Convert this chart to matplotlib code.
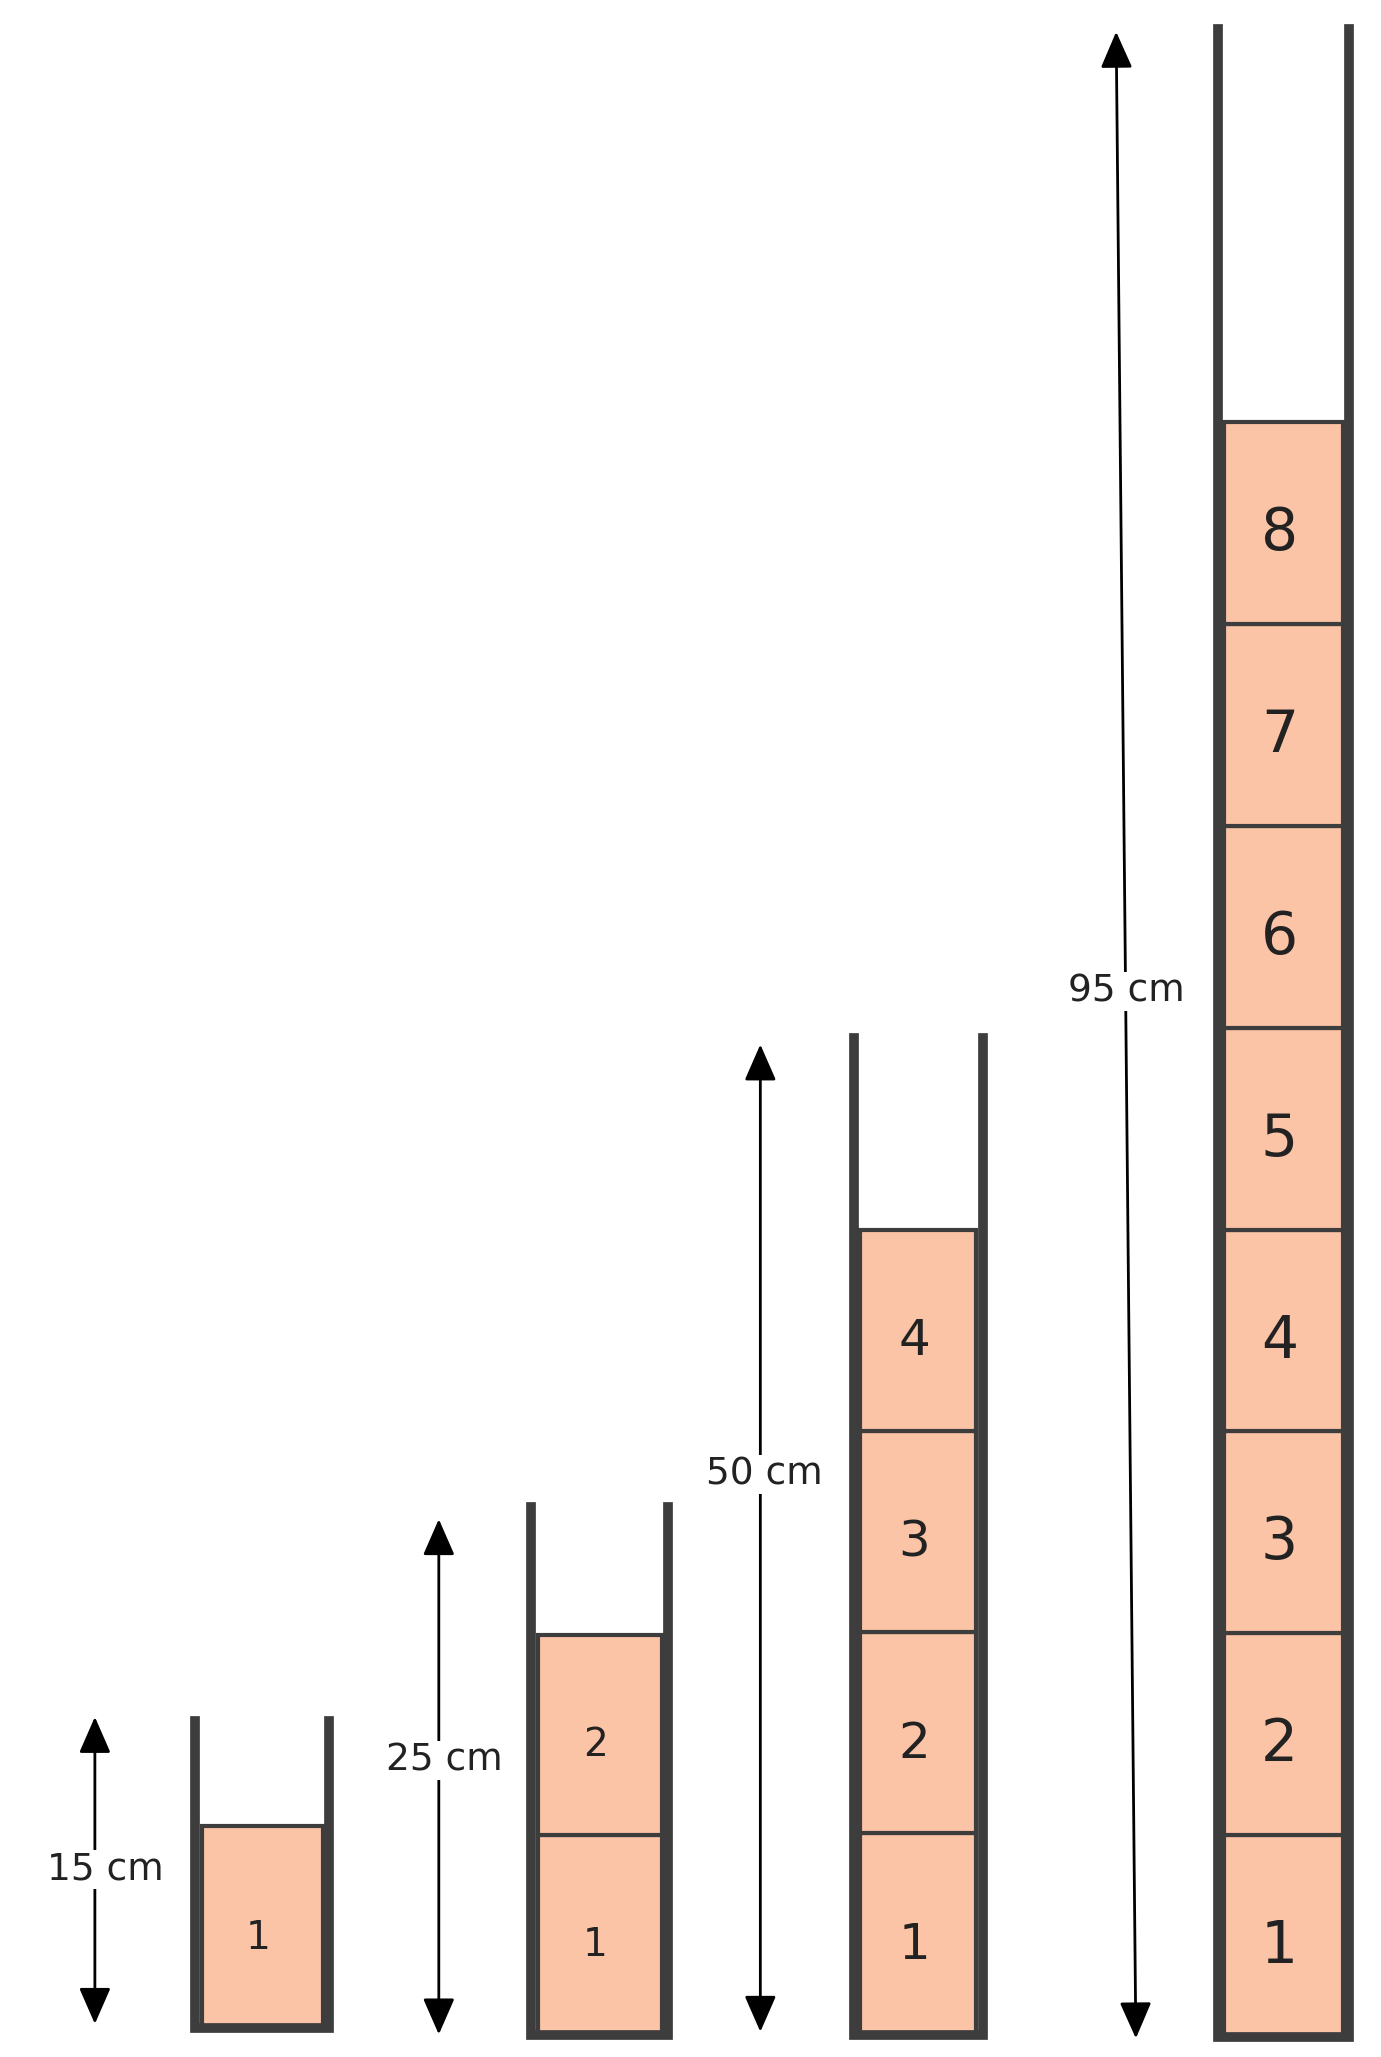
import matplotlib
matplotlib.use("Agg")
import matplotlib.pyplot as plt
from matplotlib.patches import Rectangle, FancyArrowPatch

heights = ["15 cm", "25 cm", "50 cm", "95 cm"]
counts = [1, 2, 4, 8]
left_x = [148, 403, 648, 924]
right_x = [250, 507, 746, 1024]
wall_top = [1305, 1143, 787, 22]
bottom = [1538, 1543, 1543, 1545]
fill_top = [1385, 1240, 933, 320]
arrow_x0 = [72, 333, 577, 847]
arrow_x1 = [72, 333, 577, 862]
arrow_top = [1300, 1150, 790, 22]
arrow_bot = [1537, 1545, 1543, 1548]
label_xy = [(80, 1418), (337, 1335), (580, 1118), (855, 752)]
num_size = [28, 28, 36, 42]

fig = plt.figure(figsize=(13.81, 20.57), dpi=100)
ax = fig.add_axes([0, 0, 1, 1])
ax.set_xlim(0, 1048)
ax.set_ylim(1560, 0)
ax.axis("off")
wall = "#3d3d3d"
for i in range(4):
    L, R, T, B = left_x[i], right_x[i], wall_top[i], bottom[i]
    h = (B - fill_top[i]) / counts[i]
    for k in range(counts[i]):
        y0 = B - (k + 1) * h
        ax.add_patch(Rectangle((L + 5, y0), R - L - 10, h, facecolor="#FBC4A6",
                               edgecolor=wall, lw=3, zorder=1))
        ax.text((L + R) / 2 - 3, y0 + h / 2 + 8, str(k + 1), ha="center", va="center",
                fontsize=num_size[i], color="#222222", zorder=3)
    ax.plot([L, L, R, R], [T, B, B, T], color=wall, lw=7, solid_joinstyle="miter", zorder=2)
    ax.add_patch(FancyArrowPatch((arrow_x0[i], arrow_top[i]), (arrow_x1[i], arrow_bot[i]),
                                 arrowstyle="<|-|>,head_length=1.6,head_width=0.7",
                                 mutation_scale=14, color="black", lw=2, zorder=2))
    tx, ty = label_xy[i]
    ax.text(tx, ty, heights[i], ha="center", va="center", fontsize=27,
            color="#222222", zorder=4,
            bbox=dict(facecolor="white", edgecolor="none", pad=1))
fig.savefig("out.png", dpi=100, facecolor="white")
